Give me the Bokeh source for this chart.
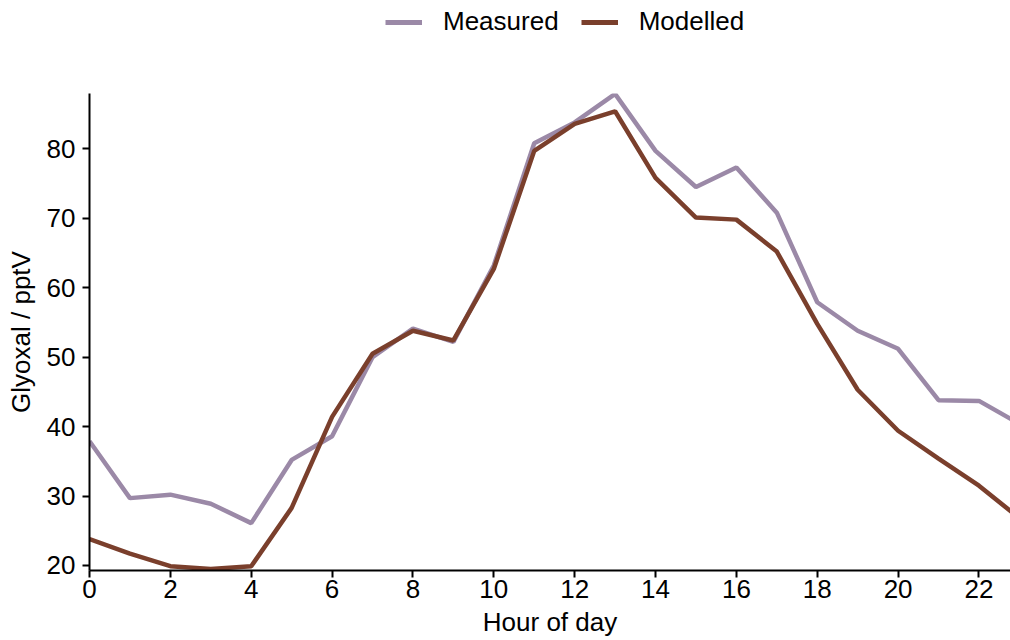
from bokeh.plotting import figure
from bokeh.layouts import column
from bokeh.models import ColumnDataSource, Legend, LegendItem, Range1d, FixedTicker
from bokeh.embed import file_html
from bokeh.resources import INLINE

hours = list(range(24))
measured = [37.9, 29.7, 30.2, 28.9, 26.1, 35.2, 38.6, 50.0, 54.1, 52.2, 63.2, 80.8,
            83.8, 87.9, 79.7, 74.5, 77.3, 70.8, 57.9, 53.8, 51.2, 43.8, 43.7, 40.4]
modelled = [23.8, 21.7, 19.9, 19.5, 19.9, 28.3, 41.4, 50.5, 53.8, 52.4, 62.7, 79.7,
            83.6, 85.4, 75.8, 70.1, 69.8, 65.2, 54.8, 45.3, 39.4, 35.4, 31.5, 26.8]
series_names = ["Measured", "Modelled"]
series_colors = ["#9b89a7", "#7a3f2c"]
x_ticks = list(range(0, 23, 2))
y_ticks = [20, 30, 40, 50, 60, 70, 80]

FONT = "Liberation Sans"
LW = 4.5

src = ColumnDataSource(dict(hour=hours, measured=measured, modelled=modelled))

# main chart
main = figure(width=1010, height=547, output_backend="svg", toolbar_location=None,
              x_range=Range1d(0, 22.78), y_range=Range1d(19.28, 87.96),
              min_border_left=89, min_border_top=0, min_border_bottom=70,
              min_border_right=0)
main.outline_line_color = None
main.xgrid.grid_line_color = None
main.ygrid.grid_line_color = None

main.line("hour", "measured", source=src, line_color=series_colors[0], line_width=LW)
main.line("hour", "modelled", source=src, line_color=series_colors[1], line_width=LW)

for ax in (main.xaxis[0], main.yaxis[0]):
    ax.axis_line_color = "black"
    ax.axis_line_width = 2
    ax.major_tick_line_color = "black"
    ax.major_tick_line_width = 2
    ax.major_tick_out = 7
    ax.major_tick_in = 0
    ax.minor_tick_line_color = None
    ax.major_label_text_font = FONT
    ax.major_label_text_font_size = "26px"
    ax.major_label_text_color = "black"
    ax.axis_label_text_font = FONT
    ax.axis_label_text_font_size = "26px"
    ax.axis_label_text_font_style = "normal"
    ax.axis_label_text_color = "black"

main.xaxis.ticker = FixedTicker(ticks=x_ticks)
main.yaxis.ticker = FixedTicker(ticks=y_ticks)
main.xaxis.axis_label = "Hour of day"
main.yaxis.axis_label = "Glyoxal / pptV"
main.xaxis.major_label_standoff = 2
main.xaxis.axis_label_standoff = 6
main.yaxis.major_label_standoff = 7
main.yaxis.axis_label_standoff = 8

# legend strip above the chart (frames are aligned by the column layout)
top = figure(width=1010, height=93, output_backend="svg", toolbar_location=None,
             x_range=Range1d(0, 1), y_range=Range1d(0, 1),
             x_axis_type=None, y_axis_type=None,
             min_border_left=89, min_border_right=0, min_border_top=0, min_border_bottom=0)
top.outline_line_color = None
top.xgrid.grid_line_color = None
top.ygrid.grid_line_color = None
items = []
nan = float("nan")
for name, color in zip(series_names, series_colors):
    r = top.line(x=[nan, nan], y=[nan, nan], line_color=color, line_width=LW + 0.5)
    items.append(LegendItem(label=name, renderers=[r]))

legend = Legend(items=items, orientation="horizontal", location=(296, 56),
                glyph_width=37, glyph_height=30, label_height=30,
                label_standoff=21, spacing=22,
                padding=0, margin=0, border_line_color=None,
                background_fill_alpha=0,
                label_text_font=FONT, label_text_font_size="26px",
                label_text_color="black")
top.add_layout(legend, "center")

p = column(top, main, spacing=0)

open("out.html", "w").write(file_html(p, INLINE))
